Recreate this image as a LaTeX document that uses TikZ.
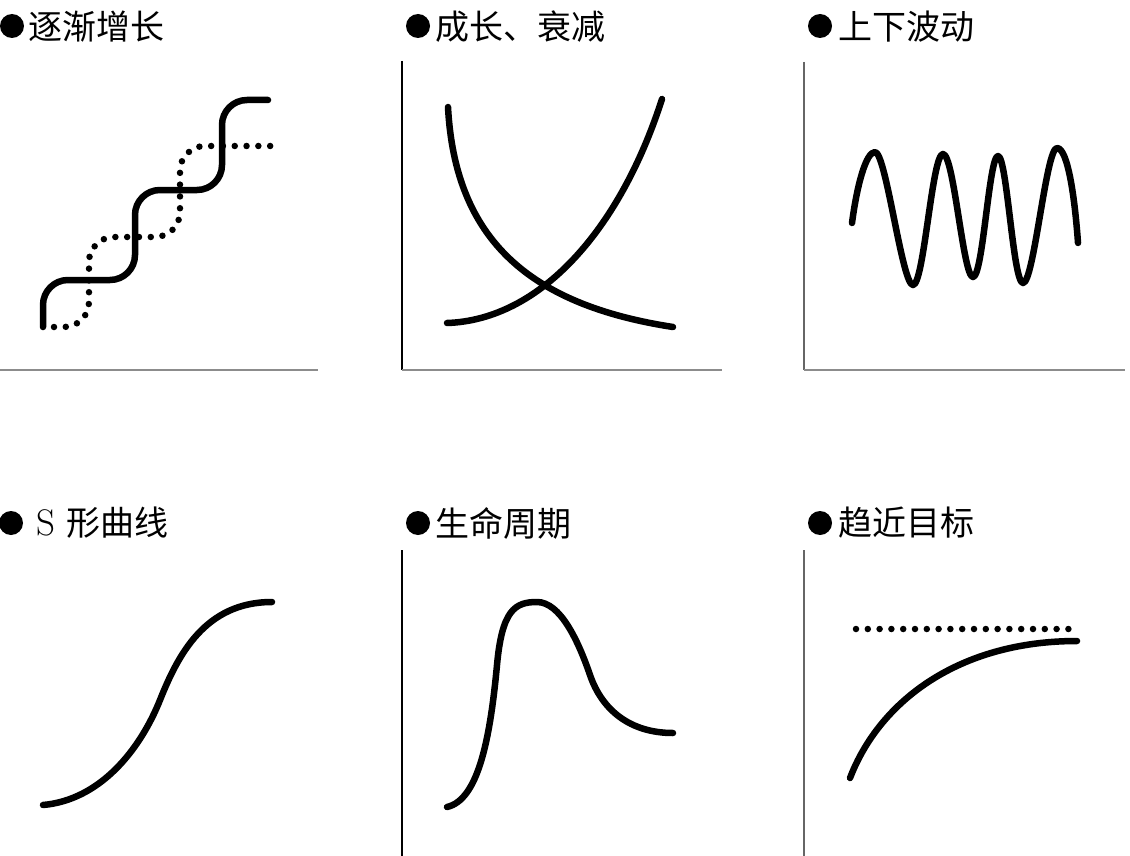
\documentclass[tikz,border=0pt]{standalone}
\usepackage{fontspec}
\newfontfamily\cjk{Noto Sans CJK SC}
\begin{document}
\begin{tikzpicture}[x=1pt,y=-1pt,
  axis/.style={line width=1.8pt, draw=black!75},
  curve/.style={line width=6.5pt, line cap=round, line join=round},
  dotline/.style={line width=6.5pt, line cap=round, dash pattern=on 0pt off 11.8pt},
  title/.style={anchor=west, inner sep=0pt, font=\fontsize{34}{34}\selectfont},
  bul/.style={circle, fill=black, minimum size=24pt, inner sep=0pt}]
\useasboundingbox[fill=white] (0,0) rectangle (1130,856);

% titles
\node[bul] (b1) at (12,26) {};
\node[title] (t1) at (28,27) {\cjk 逐渐增长};
\node[bul] (b2) at (418,26) {};
\node[title] (t2) at (435,27) {\cjk 成长、衰减};
\node[bul] (b3) at (820,26) {};
\node[title] (t3) at (838,27) {\cjk 上下波动};
\node[bul] (b4) at (11,523) {};
\node[title] (t4) at (36,523) {{\fontsize{37}{37}\selectfont S}\hspace{11pt}{\cjk 形曲线}};
\node[bul] (b5) at (418,523) {};
\node[title] (t5) at (435,523) {\cjk 生命周期};
\node[bul] (b6) at (820,523) {};
\node[title] (t6) at (838,523) {\cjk 趋近目标};

% axes
\draw[axis, draw=black!45] (0,370) -- (318,370);
\draw[axis, draw=black] (402,61) -- (402,370);
\draw[axis, draw=black!45] (402,370) -- (722,370);
\draw[axis, draw=black!60] (804,62) -- (804,370);
\draw[axis, draw=black!45] (804,370) -- (1125,370);
\draw[axis, draw=black] (402,550) -- (402,856);
\draw[axis, draw=black!60] (804,550) -- (804,856);

% panel 1: gradual growth
\draw[curve, rounded corners=25pt] (43,327) -- (43,280) -- (135,280) -- (135,190) -- (222,190) -- (222,100) -- (268,100);
\draw[dotline, rounded corners=25pt] (54,327) -- (89,327) -- (89,237) -- (180,237) -- (180,146) -- (272,146);

% panel 2: growth and decay
\draw[curve] (448,107) .. controls (455,240) and (530,305) .. (673,327);
\draw[curve] (447,323) .. controls (540,320) and (620,230) .. (662,99);

% panel 3: fluctuation
\draw[curve] (852,223) .. controls (857,185) and (866,152) .. (875,152)
  .. controls (886,152) and (902,285) .. (913,285)
  .. controls (924,285) and (932,154) .. (943,154)
  .. controls (954,154) and (963,277) .. (973,277)
  .. controls (983,277) and (989,156) .. (998,156)
  .. controls (1007,156) and (1013,283) .. (1023,283)
  .. controls (1034,283) and (1046,148) .. (1057,148)
  .. controls (1068,148) and (1075,200) .. (1078,243);

% panel 4: S curve
\draw[curve] (43,805) .. controls (100,800) and (140,750) .. (160,700)
  .. controls (178,655) and (205,602) .. (272,602);

% panel 5: life cycle
\draw[curve] (447,807) .. controls (478,800) and (490,740) .. (497,665)
  .. controls (502,610) and (515,602) .. (537,602)
  .. controls (560,602) and (578,640) .. (590,675)
  .. controls (602,710) and (630,733) .. (673,733);

% panel 6: approaching target
\draw[dotline] (856,629) -- (1077,629);
\draw[curve] (850,778) .. controls (880,700) and (960,641) .. (1077,641);
\end{tikzpicture}
\end{document}
